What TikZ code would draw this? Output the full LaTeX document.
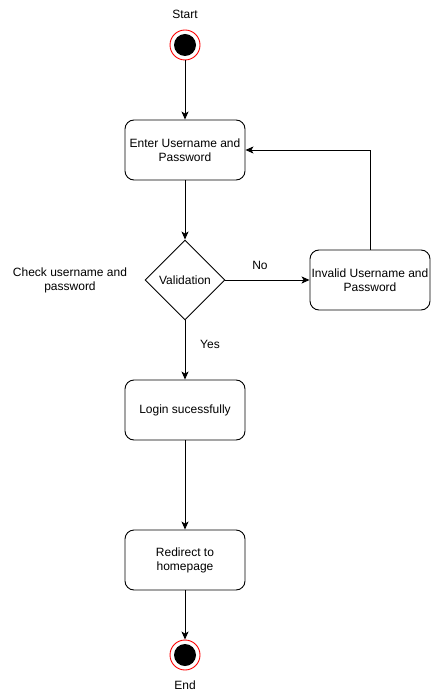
\documentclass[tikz,border=0pt]{standalone}
\usepackage{fontspec}
\setmainfont{Liberation Sans}
\usetikzlibrary{arrows.meta,shapes.geometric}
\begin{document}
\begin{tikzpicture}[x=1pt,y=-1pt,
  every node/.style={font=\fontsize{12}{14}\selectfont},
  stepbox/.style={draw,rounded corners=9pt,minimum width=120pt,minimum height=60pt,align=center,inner sep=0pt,line width=0.9pt},
  decision/.style={draw,diamond,minimum width=80pt,minimum height=80pt,inner sep=0pt,aspect=1,line width=0.9pt},
  plain/.style={align=center,inner sep=0pt},
  conn/.style={line width=0.9pt,-{Stealth[length=8pt,width=7pt,inset=2pt]}},
  startend/.style={circle,draw=red,line width=0.9pt,minimum size=30pt,inner sep=0pt,
     path picture={\fill[black] (path picture bounding box.center) circle[radius=11pt];}}
]
\useasboundingbox (0,0) rectangle (431,700);
\node[plain] (starttxt) at (185,14) {Start};
\node[startend] (start) at (185,45) {};
\node[stepbox] (enter) at (185,150) {Enter Username and\\Password};
\node[decision] (valid) at (185,280) {Validation};
\node[plain] (check) at (70,280) {Check username and\\password};
\node[stepbox] (invalid) at (370,280) {Invalid Username and\\Password};
\node[stepbox] (login) at (185,410) {Login sucessfully};
\node[stepbox] (redirect) at (185,560) {Redirect to\\homepage};
\node[startend] (finish) at (185,655) {};
\node[plain] (endtxt) at (185,685) {End};
\node[plain] (no) at (260,265) {No};
\node[plain] (yes) at (210,344) {Yes};
\coordinate (corner) at (370,150);
\draw[conn] (start) -- (enter);
\draw[conn] (enter) -- (valid.north);
\draw[conn] (valid.east) -- (invalid.west);
\draw[conn] (invalid.north) -- (corner) -- (enter.east);
\draw[conn] (valid.south) -- (login);
\draw[conn] (login) -- (redirect);
\draw[conn] (redirect) -- (finish);
\end{tikzpicture}
\end{document}
